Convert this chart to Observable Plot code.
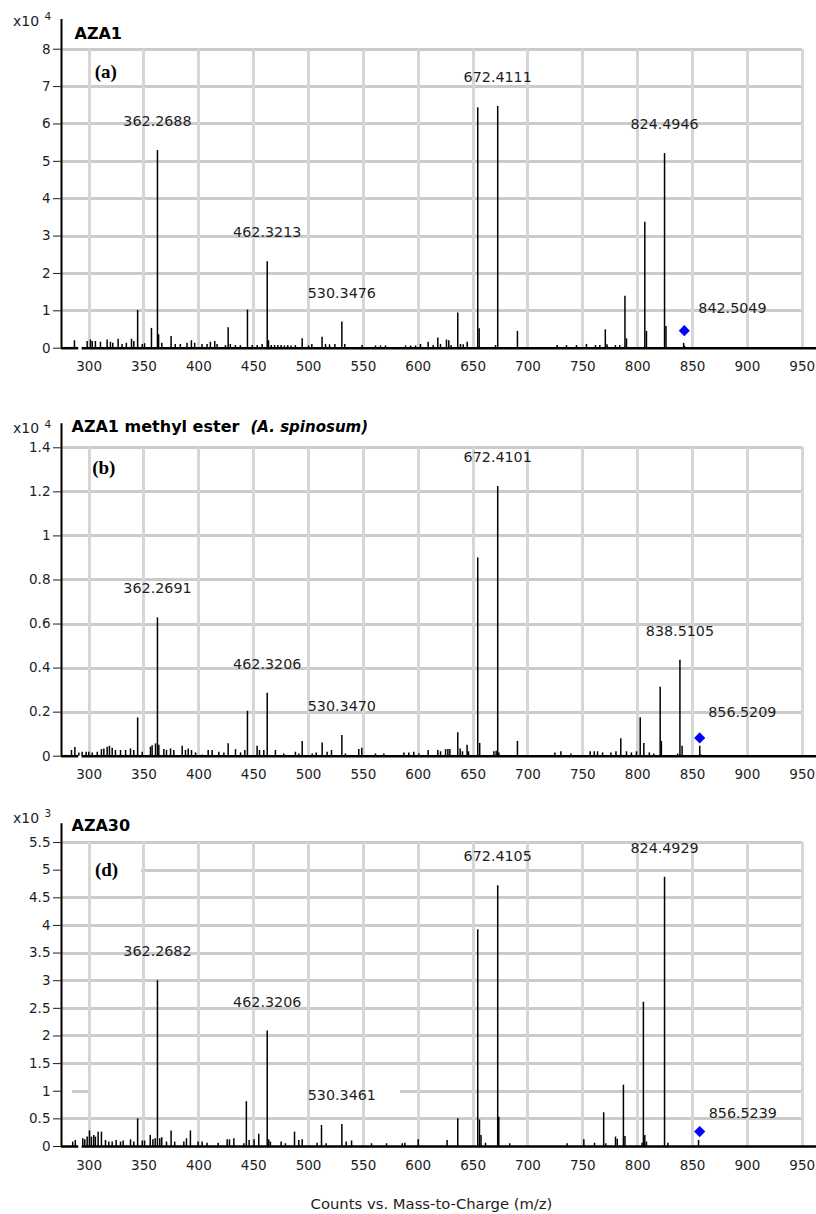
<!DOCTYPE html>
<html>
<head>
<meta charset="utf-8">
<script src="https://cdn.jsdelivr.net/npm/d3@7"></script>
<script src="https://cdn.jsdelivr.net/npm/@observablehq/plot@0.6"></script>
<style>
  html, body { margin: 0; padding: 0; background: white; }
  #chart { width: 816px; }
  #chart svg { display: block; }
</style>
</head>
<body>
<div id="chart"></div>
<script>
// ---------- data ----------
const xTicks = [300, 350, 400, 450, 500, 550, 600, 650, 700, 750, 800, 850, 900, 950];

const ticksA = [0, 1, 2, 3, 4, 5, 6, 7, 8];
const ticksB = [0, 0.2, 0.4, 0.6, 0.8, 1, 1.2, 1.4];
const ticksD = [0, 0.5, 1, 1.5, 2, 2.5, 3, 3.5, 4, 4.5, 5, 5.5];

const titlesA = ["AZA1"];
const titlesB = ["AZA1 methyl ester"];
const titlesBItalic = ["(A. spinosum)"];
const titlesD = ["AZA30"];
const tagA = ["(a)"], tagB = ["(b)"], tagD = ["(d)"];
const expA = ["4"], expB = ["4"], expD = ["3"];
const axisLabel = ["Counts vs. Mass-to-Charge (m/z)"];

// [m/z, counts] (x10^4)
const peaksA = [[286.6,0.2],[298.2,0.18],[301.2,0.22],[302.8,0.18],[305.7,0.18],[310.3,0.16],[316.4,0.22],[319.4,0.16],[321.5,0.13],[326.4,0.24],[330,0.1],[333.9,0.13],[338.6,0.24],[340.7,0.18],[344.2,1.01],[348.4,0.1],[350.5,0.12],[356.8,0.53],[362.2688,5.29],[363.3,0.36],[366.2,0.13],[374.7,0.31],[378.5,0.1],[383.1,0.1],[389.2,0.13],[393.2,0.2],[396.2,0.13],[402.9,0.1],[407.5,0.1],[410.5,0.16],[414.5,0.18],[416.6,0.1],[424.2,0.07],[426.7,0.55],[428.7,0.1],[433.3,0.07],[437.8,0.07],[444.3,1.02],[448.6,0.07],[453.2,0.07],[457.7,0.1],[462.3213,2.31],[463.5,0.2],[466,0.07],[469,0.07],[472,0.07],[475,0.07],[478,0.06],[481,0.07],[484,0.06],[488,0.07],[494.2,0.25],[500,0.06],[503,0.1],[512.3,0.29],[515.5,0.1],[519.1,0.09],[524,0.1],[530.3476,0.70],[533,0.1],[548.8,0.07],[561,0.06],[565.6,0.06],[570.1,0.06],[588.4,0.06],[593,0.06],[597.5,0.06],[602,0.1],[609,0.16],[613.6,0.07],[617.8,0.27],[620.3,0.1],[625.7,0.22],[627.8,0.2],[629.9,0.07],[636,0.94],[638.5,0.1],[641,0.09],[644.6,0.16],[654.2,6.43],[655.5,0.52],[670.4,0.07],[672.4111,6.47],[690.4,0.45],[726.6,0.07],[735.1,0.07],[744.2,0.07],[753.3,0.1],[761.5,0.07],[765.5,0.07],[770.5,0.49],[772.1,0.09],[779.7,0.07],[783.6,0.07],[788.4,1.39],[789.8,0.25],[806.5,3.37],[808,0.45],[824.4946,5.21],[825.8,0.58],[841.9,0.13],[842.8,0.05]];

// (x10^4)
const peaksB = [[283.9,0.026],[287,0.04],[290.6,0.015],[293.6,0.018],[297.3,0.018],[299.7,0.018],[302.8,0.015],[307.4,0.018],[311.2,0.03],[313.4,0.033],[316.4,0.041],[318.5,0.045],[321,0.036],[324,0.026],[328.6,0.026],[333.2,0.026],[337.7,0.033],[340.7,0.026],[344.2,0.174],[348.4,0.018],[355.9,0.041],[357.4,0.048],[360.5,0.056],[362.2691,0.628],[363.5,0.05],[368.1,0.03],[370.5,0.026],[374.2,0.033],[377.2,0.026],[384.8,0.045],[387.8,0.026],[390.3,0.033],[393.3,0.026],[397,0.015],[403,0.006],[408.5,0.026],[412.1,0.026],[418.2,0.018],[422.8,0.015],[426.7,0.056],[433.4,0.03],[438,0.015],[441.9,0.026],[444.3,0.204],[453.1,0.045],[455.3,0.026],[459.2,0.026],[462.3206,0.286],[469.8,0.026],[477.4,0.01],[488,0.018],[491.1,0.01],[494.2,0.067],[503.3,0.01],[507,0.015],[512.4,0.06],[516.9,0.018],[520.9,0.026],[530.347,0.094],[533.6,0.01],[545.8,0.03],[548.5,0.036],[561,0.01],[568.6,0.01],[586.9,0.015],[591.4,0.015],[595.9,0.018],[600.5,0.01],[609,0.026],[617.8,0.026],[620.3,0.02],[624.9,0.03],[627,0.03],[628.8,0.03],[636,0.107],[638.2,0.033],[640.3,0.02],[644.5,0.05],[645.8,0.02],[654.2,0.90],[656,0.058],[668.9,0.02],[671,0.022],[672.4101,1.224],[673.5,0.015],[690.4,0.067],[724.5,0.015],[730,0.02],[739.1,0.01],[756.7,0.02],[760.4,0.02],[763.4,0.02],[768,0.015],[775.6,0.015],[780.2,0.02],[784.6,0.079],[789.8,0.02],[794.3,0.015],[798.9,0.02],[802.3,0.174],[805.6,0.058],[810.6,0.015],[814.6,0.01],[820.5,0.313],[821.6,0.067],[836.4,0.01],[838.5105,0.436],[840.5,0.045],[856.6,0.045],[857.8,0.006]];

// (x10^3)
const peaksD = [[285,0.08],[287.4,0.11],[294.2,0.14],[296,0.12],[298.2,0.17],[300.3,0.28],[302.1,0.17],[304.2,0.2],[305.7,0.17],[308.2,0.26],[311.2,0.26],[314.9,0.11],[317.9,0.08],[321,0.08],[324.6,0.11],[328.6,0.08],[331,0.1],[337.7,0.12],[340.7,0.08],[344.2,0.50],[348.4,0.1],[350.5,0.1],[355.7,0.2],[358.1,0.12],[360.2,0.14],[362.2682,3.00],[364.4,0.14],[366.2,0.16],[370.5,0.08],[374.7,0.28],[378,0.08],[386.3,0.08],[388.7,0.14],[392.3,0.28],[399.3,0.08],[403,0.08],[407.5,0.06],[417.6,0.06],[425.8,0.12],[427.9,0.12],[431.9,0.14],[441,0.05],[443.3,0.81],[445.8,0.11],[450.3,0.12],[454.6,0.22],[462.3206,2.09],[463.7,0.12],[465.2,0.08],[475,0.08],[478.9,0.05],[487.2,0.26],[491.1,0.11],[494.2,0.12],[507.8,0.06],[511.8,0.38],[516,0.05],[530.3461,0.40],[534.3,0.08],[539.2,0.1],[557.4,0.05],[571.1,0.05],[585.4,0.05],[587.8,0.06],[599.9,0.12],[626.3,0.11],[636,0.50],[654.2,3.92],[655.8,0.48],[657.2,0.2],[661.3,0.06],[672.4105,4.72],[673.4,0.53],[683.4,0.05],[735.7,0.05],[750.9,0.12],[760.7,0.06],[769,0.61],[771,0.05],[779.8,0.17],[781.4,0.13],[787,1.11],[788.4,0.18],[804,0.06],[805.2,2.61],[806.5,0.2],[808,0.08],[824.4929,4.87],[827.5,0.06],[855.5,0.11]];

const labelsA = ["362.2688", "462.3213", "530.3476", "672.4111", "824.4946"];
const labelsB = ["362.2691", "462.3206", "530.3470", "672.4101", "838.5105"];
const labelsD = ["362.2682", "462.3206", "530.3461", "672.4105", "824.4929"];

// precursor ion: label, marker height
const precA = [{label: "842.5049", i: 0.47}];
const precB = [{label: "856.5209", i: 0.083}];
const precD = [{label: "856.5239", i: 0.27}];

// ---------- layout ----------
const xDomain = [274.8, 963];
const FONT = "DejaVu Sans, sans-serif";
const GRID_V = "#d6d6d6";
const GRID_H = "#cbcbcb";
const TXT = "#1e1e1e";

const panels = [
  {height: 380, mt: 19, mb: 32.3, yTop: 8.795, ticks: ticksA, peaks: peaksA, labels: labelsA, prec: precA,
   title: titlesA, italic: null, tag: tagA, exp: expA,
   titleDx: 13, titleDy: 14.3, tagDx: 44.3, tagDy: 52, expDy: 2, pdx: 14, pdy: -22, gaps: {}},
  {height: 400, mt: 43.3, mb: 24.3, yTop: 1.509, ticks: ticksB, peaks: peaksB, labels: labelsB, prec: precB,
   title: titlesB, italic: titlesBItalic, tag: tagB, exp: expB,
   titleDx: 10, titleDy: 3.4, tagDx: 42.3, tagDy: 44, expDy: 5, pdx: 8.5, pdy: -25.6, gaps: {}},
  {height: 434, mt: 43.3, mb: 68, yTop: 5.839, ticks: ticksD, peaks: peaksD, labels: labelsD, prec: precD,
   title: titlesD, italic: null, tag: tagD, exp: expD,
   titleDx: 10, titleDy: 2.4, tagDx: 45, tagDy: 46, expDy: -5.6, pdx: 9, pdy: -17.7,
   gaps: {5: [[347.8, 950]], 1: [[284.9, 301.2], [583.8, 950]]}, axisLabel: true}
];

const fmt = d => String(+d.toFixed(2));

function makePanel(p) {
  const peaks = p.peaks.map(([mz, i]) => ({mz, i}));
  const labs = p.labels.map(t => {
    const v = +t;
    const near = peaks.filter(d => Math.abs(d.mz - v) < 0.6);
    return {mz: v, i: d3.max(near, d => d.i), text: t};
  });
  const prec = p.prec.map(d => ({mz: +d.label, i: d.i, text: d.label}));
  const topTick = p.ticks[p.ticks.length - 1];
  const gridSegs = [];
  for (const t of p.ticks) {
    if (t === 0) continue;
    const segs = p.gaps[t] || [[xDomain[0], 950]];
    for (const [a, b] of segs) gridSegs.push({gy: t, a, b});
  }
  const baseSegs = [{a: xDomain[0], b: 290.5}, {a: 293.6, b: xDomain[1]}];

  const marks = [
    Plot.ruleY(gridSegs, {y: "gy", x1: "a", x2: "b", stroke: GRID_H, strokeWidth: 3, shapeRendering: "crispEdges"}),
    Plot.ruleX(xTicks, {x: d => d, y1: () => 0, y2: () => topTick, stroke: GRID_V, strokeWidth: 3, shapeRendering: "crispEdges"}),
    Plot.ruleX(peaks, {x: "mz", y1: 0, y2: "i", stroke: "black", strokeWidth: 1.5}),
    Plot.ruleY(baseSegs, {y: () => 0, x1: "a", x2: "b", stroke: "black", strokeWidth: 2.5}),
    Plot.ruleX([xDomain[0]], {x: d => d, y1: 0, y2: p.yTop, stroke: "black", strokeWidth: 2}),
    Plot.axisY(p.ticks, {tickSize: 8, tickPadding: 3, tickFormat: fmt, fontSize: 13.5, label: null, color: TXT}),
    Plot.axisX(xTicks, {tickSize: 0, tickPadding: 13.5, fontSize: 13.5, label: null, color: TXT}),
    Plot.text(labs, {x: "mz", y: "i", text: "text", dy: -29, fontSize: 14.3, fill: TXT, lineAnchor: "middle"}),
    Plot.dot(prec, {x: "mz", y: "i", symbol: "diamond2", r: 5, fill: "#0000ff", stroke: "none"}),
    Plot.text(prec, {x: "mz", y: "i", text: "text", dx: p.pdx, dy: p.pdy, textAnchor: "start", fontSize: 14.3, fill: TXT, lineAnchor: "middle"}),
    Plot.text(p.title, {frameAnchor: "top-left", text: d => d, dx: p.titleDx, dy: p.titleDy, textAnchor: "start", lineAnchor: "middle", fontWeight: "bold", fontSize: 16, fill: "black"}),
    Plot.text(p.tag, {frameAnchor: "top-left", text: d => d, dx: p.tagDx, dy: p.tagDy, textAnchor: "middle", lineAnchor: "middle", fontWeight: "bold", fontSize: 19, fontFamily: "Liberation Serif, serif", fill: "black"}),
    Plot.text(["x10"], {frameAnchor: "top-left", text: d => d, dx: -48.5, dy: p.expDy, textAnchor: "start", lineAnchor: "middle", fontSize: 14, fill: TXT}),
    Plot.text(p.exp, {frameAnchor: "top-left", text: d => d, dx: -17, dy: p.expDy - 4.5, textAnchor: "start", lineAnchor: "middle", fontSize: 10.5, fill: TXT})
  ];
  if (p.italic) {
    marks.push(Plot.text(p.italic, {frameAnchor: "top-left", text: d => d, dx: 189, dy: p.titleDy, textAnchor: "start", lineAnchor: "middle", fontWeight: "bold", fontStyle: "italic", fontSize: 15, fill: "black"}));
  }
  if (p.axisLabel) {
    marks.push(Plot.text(axisLabel, {frameAnchor: "bottom", text: d => d, dx: -7.5, dy: 57.3, lineAnchor: "middle", fontSize: 14.8, fill: TXT}));
  }

  return Plot.plot({
    width: 816,
    height: p.height,
    marginLeft: 61,
    marginRight: 0,
    marginTop: p.mt,
    marginBottom: p.mb,
    x: {domain: xDomain},
    y: {domain: [0, p.yTop]},
    style: {fontFamily: FONT, background: "white", overflow: "visible"},
    marks
  });
}

const root = document.getElementById("chart");
for (const p of panels) root.appendChild(makePanel(p));
</script>
</body>
</html>
